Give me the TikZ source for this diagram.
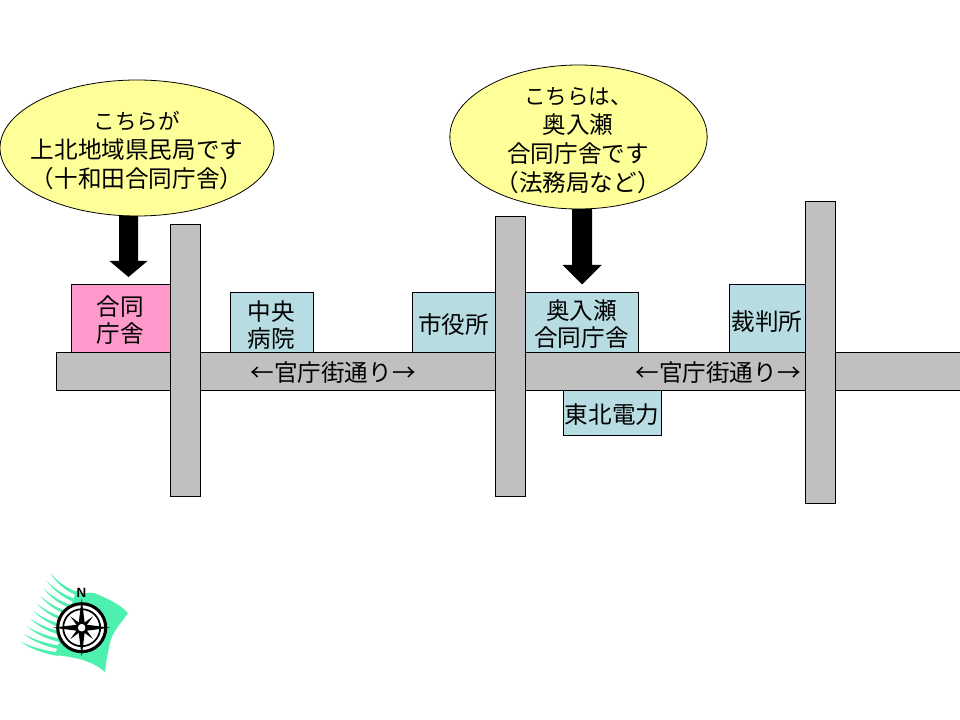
\documentclass[tikz,border=0pt]{standalone}
\usepackage{fontspec}
\setmainfont{Noto Sans CJK JP}
\newfontfamily\latinsans{Liberation Sans}
\usetikzlibrary{shapes.geometric}
\tikzset{
  road/.style={draw=black,line width=0.6pt,fill=roadgray},
  bldg/.style={draw=black,line width=0.6pt,fill=bldgblue},
  balloon/.style={draw=black,line width=0.6pt,fill=balloony},
  label/.style={font=\fontsize{17.7}{20.8}\selectfont,align=center,inner sep=0pt},
  bigarrow/.style={fill=black,draw=none},
}
\newcommand{\kana}[1]{{\fontsize{16.2}{16.2}\selectfont #1}}
\definecolor{roadgray}{HTML}{C0C0C0}
\definecolor{bldgblue}{HTML}{B7DDE3}
\definecolor{bldgpink}{HTML}{FF99CC}
\definecolor{balloony}{HTML}{FFFF99}
\definecolor{flag}{HTML}{4DF0AE}
\begin{document}
\begin{tikzpicture}[x=0.75pt,y=-0.75pt]
\useasboundingbox (0,0) rectangle (960,720);
% horizontal road
\draw[road] (56,352) rectangle (961,390);
\node[label] (rdA) at (333,373) {←官庁街通り→};
\node[label] (rdB) at (718,373) {←官庁街通り→};
% buildings
\draw[bldg,fill=bldgpink] (71,284) rectangle (170,352) node[midway,label,yshift=-1.6pt] (godoA) {合同\\庁舎};
\draw[bldg] (230,292) rectangle (313,352) node[midway,label,yshift=-2.3pt] (byoin) {中央\\病院};
\draw[bldg] (412,292) rectangle (495,352) node[midway,label,yshift=-1.8pt] (shiyaku) {市役所};
\draw[bldg] (525,292) rectangle (638,352) node[midway,label,yshift=-1.6pt] (godoB) {奥入瀬\\合同庁舎};
\draw[bldg] (563,390) rectangle (661,435) node[midway,label,yshift=-1.2pt] (tohoku) {東北電力};
\draw[bldg] (729,284) rectangle (805,352) node[midway,label,yshift=-2.4pt] (saiban) {裁判所};
% vertical roads
\draw[road] (170,224) rectangle (200,496);
\draw[road] (495,216) rectangle (525,496);
\draw[road] (805,201) rectangle (835,503);
% balloons
\node[balloon,ellipse,minimum width=205.5pt,minimum height=102pt,inner sep=0pt] (ballA) at (137,148) {};
\node[label,font=\fontsize{17.7}{22}\selectfont] (ballAt) at (137,150.5) {\kana{こちらが}\\上北地域県民局です\\（十和田合同庁舎）};
\node[balloon,ellipse,minimum width=193pt,minimum height=108pt,inner sep=0pt] (ballB) at (578.5,137) {};
\node[label,font=\fontsize{17.7}{21.8}\selectfont] (ballBt) at (578,140.5) {\kana{こちらは、}\\奥入瀬\\合同庁舎です\\（法務局など）};
% block arrows
\fill[bigarrow] (119,216) -- (138,216) -- (138,261) -- (147.5,261) -- (128.5,277) -- (109.5,261) -- (119,261) -- cycle;
\fill[bigarrow] (572,209) -- (592,209) -- (592,265) -- (601.5,265) -- (582,284.5) -- (562.5,265) -- (572,265) -- cycle;
% compass flag
\fill[flag] (76,591) .. controls (82,595) and (88,592) .. (94,593)
  .. controls (106,598) and (120,604) .. (128,613)
  .. controls (122,622) and (112,632) .. (110,643)
  .. controls (108,652) and (106,662) .. (105,672)
  .. controls (96,664) and (84,658) .. (55,655)
  -- cycle;
\foreach \i in {0,...,9}{
  \pgfmathsetmacro{\sx}{50-3.33*\i}
  \pgfmathsetmacro{\sy}{573+7.6*\i}
  \pgfmathsetmacro{\dx}{30+0.9*\i}
  \pgfmathsetmacro{\dy}{20-\i}
  \fill[flag] (\sx,\sy)
    .. controls (\sx+0.35*\dx,\sy+0.6*\dy) and (\sx+0.7*\dx,\sy+0.85*\dy) .. (\sx+\dx,\sy+\dy)
    -- (\sx+\dx,\sy+\dy+3.6)
    .. controls (\sx+0.65*\dx,\sy+0.85*\dy+3) and (\sx+0.3*\dx,\sy+0.6*\dy+1.6) .. (\sx,\sy) -- cycle;
}
% compass
\coordinate (cc) at (81.7,627.7);
\fill[white] (cc) circle[radius=25pt*0.75];
\draw[black,line width=2.3pt] (cc) circle[radius=24pt*0.75];
\draw[black,line width=1.3pt] (cc) circle[radius=18.5pt*0.75];
\foreach \a in {45,135,225,315}{
  \fill[black,shift={(cc)},rotate=\a] (0:12pt) -- (30:3pt) -- (-30:3pt) -- cycle;
}
\foreach \a in {0,90,180,270}{
  \fill[black,shift={(cc)},rotate=\a] (0:21.5pt) -- (45:3.4pt) -- (-45:3.4pt) -- cycle;
}
\fill[white] (cc) circle[radius=2.8pt];
\node[font=\latinsans\bfseries\fontsize{10}{10}\selectfont,inner sep=0pt] (north) at (81.5,593) {N};
\end{tikzpicture}
\end{document}
